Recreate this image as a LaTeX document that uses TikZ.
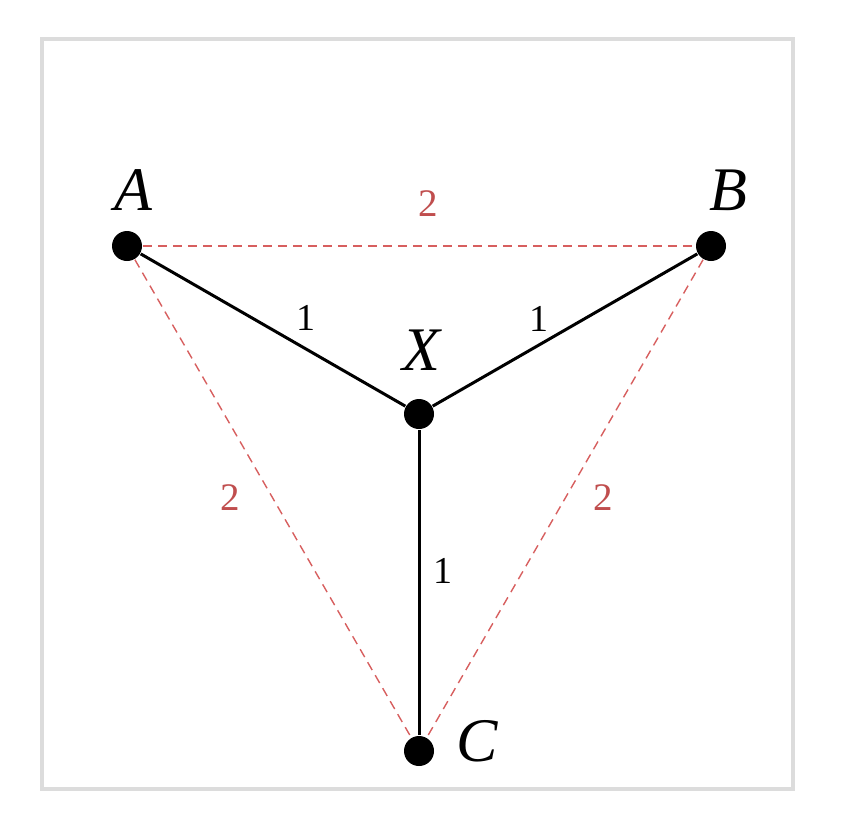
\documentclass[tikz,border=0pt]{standalone}
\usepackage{fontspec}
\setmainfont{Liberation Serif}
\definecolor{edgered}{RGB}{192,78,78}
\definecolor{dashred}{RGB}{215,95,95}
\definecolor{framegray}{RGB}{220,220,220}
\begin{document}
\begin{tikzpicture}[x=0.5pt, y=-0.5pt, thick,
    dot/.style={circle, fill=black, inner sep=0pt, minimum size=15pt},
    vname/.style={font=\fontsize{31}{31}\selectfont\itshape},
    wone/.style={font=\fontsize{19}{19}\selectfont},
    wtwo/.style={font=\fontsize{19.5}{19.5}\selectfont, text=edgered},
    solidedge/.style={line width=1.5pt},
    dashededge/.style={draw=dashred, line width=0.7pt, dash pattern=on 4.5pt off 3pt}]
    \useasboundingbox (0,0) rectangle (850,816);
    \draw[framegray, line width=2pt] (42,39) rectangle (793,789);
    % vertices
    \node[dot] (A) at (127,246) {};
    \node[dot] (B) at (711,246) {};
    \node[dot] (X) at (419,414) {};
    \node[dot] (C) at (419,751) {};
    \node[vname] (la) at (133,190) {A};
    \node[vname] (lb) at (728,190) {B};
    \node[vname] (lx) at (421,350) {X};
    \node[vname] (lc) at (477,741) {C};
    % triangle sides
    \draw[dashededge] (A) -- (B);
    \draw[dashededge] (A) -- (C);
    \draw[dashededge] (B) -- (C);
    \node[wtwo] (ab) at (428,204) {2};
    \node[wtwo] (ac) at (230,498) {2};
    \node[wtwo] (bc) at (603,498) {2};
    % star edges
    \draw[solidedge] (A) -- (X);
    \draw[solidedge] (B) -- (X);
    \draw[solidedge] (C) -- (X);
    \node[wone] (ax) at (306,318) {1};
    \node[wone] (bx) at (539,319) {1};
    \node[wone] (cx) at (443,571) {1};
\end{tikzpicture}
\end{document}
